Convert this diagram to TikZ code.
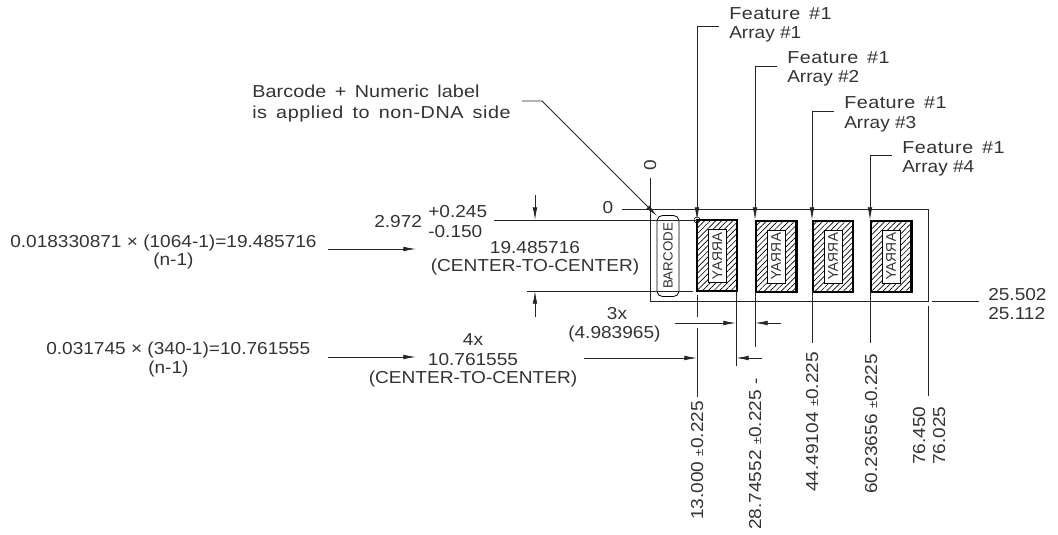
\documentclass[tikz,border=0pt]{standalone}
\usepackage{fontspec}
\setmainfont{Liberation Sans}
\newfontfamily\cadfont[FakeStretch=1.1]{Liberation Sans}
\newfontfamily\cadwide[FakeStretch=1.14,LetterSpace=2.8,WordSpace=1.5]{Liberation Sans}
\newfontfamily\cadnote[FakeStretch=1.14,LetterSpace=0.6,WordSpace=1.5]{Liberation Sans}
\newfontfamily\cadlong[FakeStretch=1.14,LetterSpace=3.4,WordSpace=1.5]{Liberation Sans}
\newcommand{\tolsign}{{\fontsize{9pt}{9pt}\selectfont ±}}
\usetikzlibrary{arrows.meta,patterns.meta}

\tikzset{
  cadtext/.style={inner sep=0pt, font=\cadfont\fontsize{13pt}{14pt}\selectfont, text=black!80},
  lbl/.style={cadtext, anchor=base west},
  lblwide/.style={lbl, font=\cadwide\fontsize{13pt}{14pt}\selectfont},
  lblmid/.style={cadtext, anchor=base},
  lblup/.style={cadtext, anchor=base west, rotate=90},
  dimline/.style={line width=0.6pt, black!85},
  dimarrow/.style={dimline, -{Latex[length=9.5pt,width=3.5pt]}},
  arraybox/.style={draw, line width=1.4pt, pattern={Lines[angle=45,distance=3pt,line width=0.5pt]}, minimum width=30pt, minimum height=53.25pt, inner sep=0pt, anchor=north west},
  arraylabel/.style={draw, line width=0.5pt, fill=white, minimum width=39.75pt, minimum height=13.5pt, inner sep=0pt, font=\fontsize{10.5pt}{12pt}\selectfont, text=black!80},
  heavyside/.style={line width=2.2pt}
}

\begin{document}
\begin{tikzpicture}[x=0.75pt, y=-0.75pt]
\useasboundingbox (0,0) rectangle (1058,535);

% slide outline and barcode
\draw [dimline] (650,209) rectangle (928,301);
\node (barcode) [draw, rounded corners=4pt, line width=0.6pt, minimum width=60.75pt, minimum height=16.5pt, inner sep=0pt, rotate=90, text=black!80, font=\fontsize{10pt}{12pt}\selectfont] at (668,256) {BARCODE};

% four arrays
\foreach \name/\xleft/\xtop/\ytop in {1/697/719/26, 2/755/777/66, 3/812/834/111, 4/870/892/155} {
  \node (box\name) [arraybox] at (\xleft,220) {};
  \node (lab\name) [arraylabel, rotate=90, xscale=-1] at (box\name.center) {ARRAY};
  \coordinate (top\name) at (\xleft,\ytop);
  \coordinate (end\name) at (\xtop,\ytop);
  \draw [dimarrow] (end\name) -- (top\name) -- (box\name.north west);
}
\draw [heavyside] (box1.north west) -- (box1.south west);
\draw [heavyside] (box2.north east) -- (box2.south east);
\draw [heavyside] (box4.north east) -- (box4.south east);
\node (mark) [draw, circle, minimum size=4.5pt, inner sep=0pt, line width=0.4pt] at (697,220) {};

% feature labels
\node (f1) [lblwide] at (729,20) {Feature \#1};
\node (a1) [lbl] at (729,39) {Array \#1};
\node (f2) [lblwide] at (787,64) {Feature \#1};
\node (a2) [lbl] at (787,83) {Array \#2};
\node (f3) [lblwide] at (844,109) {Feature \#1};
\node (a3) [lbl] at (844,128) {Array \#3};
\node (f4) [lblwide] at (902,153) {Feature \#1};
\node (a4) [lbl] at (902,172) {Array \#4};

% barcode note
\node (note1) [lbl, font=\cadnote\fontsize{13pt}{14pt}\selectfont] at (252,98) {Barcode + Numeric label};
\node (note2) [lbl, font=\cadlong\fontsize{13pt}{14pt}\selectfont] at (252,119) {is applied to non-DNA side};
\coordinate (noteA) at (522,101);
\coordinate (noteB) at (542,101);
\coordinate (noteC) at (657,216);
\draw [dimarrow] (noteA) -- (noteB) -- (noteC);

% zero datums
\node (zeroA) [lblmid] at (608,214) {0};
\node (zeroB) [lblmid, rotate=90] at (656,165) {0};
\coordinate (zeroAend) at (622,209);
\coordinate (zeroBend) at (650,178);
\draw [dimline] (zeroAend) -- (650,209);
\draw [dimline] (zeroBend) -- (650,209);

% vertical tolerance
\node (tolA) [lbl] at (374,227) {2.972};
\node (tolB) [lbl] at (428,217) {+0.245};
\node (tolC) [lbl] at (428,237) {-0.150};
\coordinate (extA) at (494,220);
\coordinate (extB) at (527,291);
\draw [dimline] (extA) -- (697,220);
\draw [dimline] (extB) -- (693,291);
\coordinate (arrA) at (535,195);
\coordinate (arrB) at (535,317);
\draw [dimarrow] (arrA) -- (535,220);
\draw [dimarrow] (arrB) -- (535,291);
\node (pitchA) [lblmid] at (535,253) {19.485716};
\node (pitchB) [lblmid] at (535,272) {(CENTER-TO-CENTER)};

% left calculations
\node (calcA) [lbl] at (10,247) {0.018330871 × (1064-1)=19.485716};
\node (calcAn) [lbl] at (153,265) {(n-1)};
\coordinate (leadA) at (328,249);
\draw [dimarrow] (leadA) -- (416,249);
\node (calcB) [lbl] at (46,354) {0.031745 × (340-1)=10.761555};
\node (calcBn) [lbl] at (148,373) {(n-1)};
\coordinate (leadB) at (328,357);
\draw [dimarrow] (leadB) -- (416,357);

% horizontal spacing
\node (spaceA) [lblmid] at (617,319) {3x};
\node (spaceB) [lbl] at (568,338) {(4.983965)};
\node (spaceC) [lblmid] at (473,345) {4x};
\node (spaceD) [lblmid] at (473,365) {10.761555};
\node (spaceE) [lblmid] at (473,383) {(CENTER-TO-CENTER)};

% extension lines
\draw [dimline] (697,295) -- (697,317);
\draw [dimline] (697,328) -- (697,397);
\draw [dimline] (736,291) -- (736,366);
\draw [dimline] (755,291) -- (755,347);
\draw [dimline] (812,291) -- (812,343);
\draw [dimline] (870,291) -- (870,343);
\draw [dimline] (928,306) -- (928,396);
\draw [dimline] (932,301) -- (979,301);
\draw [dimarrow] (675,323) -- (736,323);
\draw [dimarrow] (781,323) -- (755,323);
\draw [dimarrow] (584,358) -- (697,358);
\draw [dimarrow] (762,358) -- (736,358);

% rotated values
\node (valA) [lblup] at (703,520) {13.000 \tolsign0.225};
\node (valB) [lblup] at (761,530) {28.74552 \tolsign0.225 -};
\node (valC) [lblup] at (818,492) {44.49104 \tolsign0.225};
\node (valD) [lblup] at (877,494) {60.23656 \tolsign0.225};
\node (valE) [lblup] at (925,465) {76.450};
\node (valF) [lblup] at (945,465) {76.025};
\node (valG) [lbl] at (988,300) {25.502};
\node (valH) [lbl] at (988,319) {25.112};

\end{tikzpicture}
\end{document}
